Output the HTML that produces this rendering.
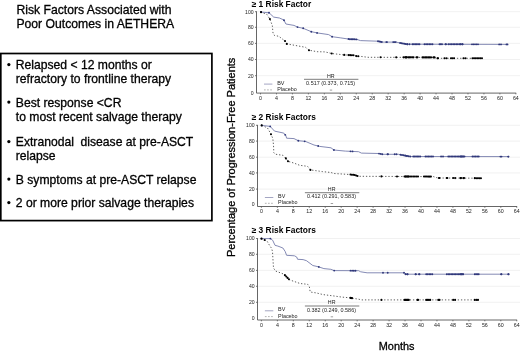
<!DOCTYPE html>
<html><head><meta charset="utf-8"><style>
html,body{margin:0;padding:0;background:#fff;width:520px;height:351px;overflow:hidden}
svg{display:block;filter:blur(0.3px)}
text{font-family:"Liberation Sans", sans-serif;}
.t{stroke:#000;stroke-width:0.3px}
</style></head><body>
<svg width="520" height="351" viewBox="0 0 520 351">

<text class="t" x="16.4" y="13.8" font-size="12.2" fill="#000">Risk Factors Associated with</text>
<text class="t" x="16.4" y="27.8" font-size="12.2" fill="#000">Poor Outcomes in AETHERA</text>
<rect x="0.8" y="53.5" width="211.1" height="167.1" fill="none" stroke="#000" stroke-width="1.7"/>
<text class="t" x="15.8" y="69.2" font-size="12.15" fill="#000" style="white-space:pre">Relapsed &lt; 12 months or</text>
<circle cx="8.85" cy="64.6" r="1.6" fill="#000"/>
<text class="t" x="15.8" y="83.0" font-size="12.15" fill="#000" style="white-space:pre">refractory to frontline therapy</text>
<text class="t" x="15.8" y="106.7" font-size="12.15" fill="#000" style="white-space:pre">Best response &lt;CR</text>
<circle cx="8.85" cy="102.1" r="1.6" fill="#000"/>
<text class="t" x="15.8" y="120.7" font-size="12.15" fill="#000" style="white-space:pre">to most recent salvage therapy</text>
<text class="t" x="15.8" y="146.2" font-size="12.15" fill="#000" style="white-space:pre">Extranodal  disease at pre-ASCT</text>
<circle cx="8.85" cy="141.6" r="1.6" fill="#000"/>
<text class="t" x="15.8" y="160.1" font-size="12.15" fill="#000" style="white-space:pre">relapse</text>
<text class="t" x="15.8" y="183.7" font-size="12.15" fill="#000" style="white-space:pre">B symptoms at pre-ASCT relapse</text>
<circle cx="8.85" cy="179.1" r="1.6" fill="#000"/>
<text class="t" x="15.8" y="207.2" font-size="12.15" fill="#000" style="white-space:pre">2 or more prior salvage therapies</text>
<circle cx="8.85" cy="202.6" r="1.6" fill="#000"/>
<text class="t" transform="translate(234.8,157.35) rotate(-90)" text-anchor="middle" font-size="11" fill="#000">Percentage of Progression-Free Patients</text>
<text class="t" x="378.8" y="350.3" font-size="10.9" fill="#000">Months</text>
<line x1="257.30" y1="75.70" x2="520" y2="75.70" stroke="#ededed" stroke-width="0.8"/>
<line x1="257.30" y1="59.50" x2="520" y2="59.50" stroke="#ededed" stroke-width="0.8"/>
<line x1="257.30" y1="43.40" x2="520" y2="43.40" stroke="#ededed" stroke-width="0.8"/>
<line x1="257.30" y1="27.30" x2="520" y2="27.30" stroke="#ededed" stroke-width="0.8"/>
<line x1="257.30" y1="11.70" x2="520" y2="11.70" stroke="#ededed" stroke-width="0.8"/>
<text x="251.7" y="6.50" font-size="8.4" font-weight="bold" fill="#000">≥ 1 Risk Factor</text>
<polyline points="256.50,11.30 256.50,93.10 516.20,93.10" fill="none" stroke="#555" stroke-width="0.9"/>
<text x="253.60" y="94.70" font-size="5.1" text-anchor="end" fill="#222">0</text>
<line x1="255.00" y1="75.70" x2="256.50" y2="75.70" stroke="#555" stroke-width="0.8"/>
<text x="253.60" y="77.50" font-size="5.1" text-anchor="end" fill="#222">20</text>
<line x1="255.00" y1="59.50" x2="256.50" y2="59.50" stroke="#555" stroke-width="0.8"/>
<text x="253.60" y="61.30" font-size="5.1" text-anchor="end" fill="#222">40</text>
<line x1="255.00" y1="43.40" x2="256.50" y2="43.40" stroke="#555" stroke-width="0.8"/>
<text x="253.60" y="45.20" font-size="5.1" text-anchor="end" fill="#222">60</text>
<line x1="255.00" y1="27.30" x2="256.50" y2="27.30" stroke="#555" stroke-width="0.8"/>
<text x="253.60" y="29.10" font-size="5.1" text-anchor="end" fill="#222">80</text>
<line x1="255.00" y1="11.70" x2="256.50" y2="11.70" stroke="#555" stroke-width="0.8"/>
<text x="253.60" y="13.50" font-size="5.1" text-anchor="end" fill="#222">100</text>
<line x1="260.50" y1="93.10" x2="260.50" y2="94.40" stroke="#555" stroke-width="0.8"/>
<text x="260.50" y="100.00" font-size="5.3" text-anchor="middle" fill="#222">0</text>
<line x1="276.46" y1="93.10" x2="276.46" y2="94.40" stroke="#555" stroke-width="0.8"/>
<text x="276.46" y="100.00" font-size="5.3" text-anchor="middle" fill="#222">4</text>
<line x1="292.42" y1="93.10" x2="292.42" y2="94.40" stroke="#555" stroke-width="0.8"/>
<text x="292.42" y="100.00" font-size="5.3" text-anchor="middle" fill="#222">8</text>
<line x1="308.38" y1="93.10" x2="308.38" y2="94.40" stroke="#555" stroke-width="0.8"/>
<text x="308.38" y="100.00" font-size="5.3" text-anchor="middle" fill="#222">12</text>
<line x1="324.34" y1="93.10" x2="324.34" y2="94.40" stroke="#555" stroke-width="0.8"/>
<text x="324.34" y="100.00" font-size="5.3" text-anchor="middle" fill="#222">16</text>
<line x1="340.30" y1="93.10" x2="340.30" y2="94.40" stroke="#555" stroke-width="0.8"/>
<text x="340.30" y="100.00" font-size="5.3" text-anchor="middle" fill="#222">20</text>
<line x1="356.26" y1="93.10" x2="356.26" y2="94.40" stroke="#555" stroke-width="0.8"/>
<text x="356.26" y="100.00" font-size="5.3" text-anchor="middle" fill="#222">24</text>
<line x1="372.22" y1="93.10" x2="372.22" y2="94.40" stroke="#555" stroke-width="0.8"/>
<text x="372.22" y="100.00" font-size="5.3" text-anchor="middle" fill="#222">28</text>
<line x1="388.18" y1="93.10" x2="388.18" y2="94.40" stroke="#555" stroke-width="0.8"/>
<text x="388.18" y="100.00" font-size="5.3" text-anchor="middle" fill="#222">32</text>
<line x1="404.14" y1="93.10" x2="404.14" y2="94.40" stroke="#555" stroke-width="0.8"/>
<text x="404.14" y="100.00" font-size="5.3" text-anchor="middle" fill="#222">36</text>
<line x1="420.10" y1="93.10" x2="420.10" y2="94.40" stroke="#555" stroke-width="0.8"/>
<text x="420.10" y="100.00" font-size="5.3" text-anchor="middle" fill="#222">40</text>
<line x1="436.06" y1="93.10" x2="436.06" y2="94.40" stroke="#555" stroke-width="0.8"/>
<text x="436.06" y="100.00" font-size="5.3" text-anchor="middle" fill="#222">44</text>
<line x1="452.02" y1="93.10" x2="452.02" y2="94.40" stroke="#555" stroke-width="0.8"/>
<text x="452.02" y="100.00" font-size="5.3" text-anchor="middle" fill="#222">48</text>
<line x1="467.98" y1="93.10" x2="467.98" y2="94.40" stroke="#555" stroke-width="0.8"/>
<text x="467.98" y="100.00" font-size="5.3" text-anchor="middle" fill="#222">52</text>
<line x1="483.94" y1="93.10" x2="483.94" y2="94.40" stroke="#555" stroke-width="0.8"/>
<text x="483.94" y="100.00" font-size="5.3" text-anchor="middle" fill="#222">56</text>
<line x1="499.90" y1="93.10" x2="499.90" y2="94.40" stroke="#555" stroke-width="0.8"/>
<text x="499.90" y="100.00" font-size="5.3" text-anchor="middle" fill="#222">60</text>
<line x1="515.86" y1="93.10" x2="515.86" y2="94.40" stroke="#555" stroke-width="0.8"/>
<text x="515.86" y="100.00" font-size="5.3" text-anchor="middle" fill="#222">64</text>
<line x1="264.00" y1="84.10" x2="272.40" y2="84.10" stroke="#9a9cbc" stroke-width="0.9"/>
<line x1="264.00" y1="89.90" x2="272.40" y2="89.90" stroke="#aaa" stroke-width="0.9" stroke-dasharray="1.7 1.4"/>
<text x="277.20" y="84.70" font-size="5.4" fill="#222">BV</text>
<text x="277.20" y="90.80" font-size="5.4" fill="#222">Placebo</text>
<text x="330.80" y="77.60" font-size="5.3" text-anchor="middle" fill="#222">HR</text>
<line x1="304.00" y1="79.30" x2="358.40" y2="79.30" stroke="#222" stroke-width="0.6"/>
<text x="330.60" y="84.80" font-size="5.45" text-anchor="middle" fill="#222">0.517 (0.373, 0.715)</text>
<line x1="329.80" y1="90.10" x2="332.20" y2="90.10" stroke="#888" stroke-width="0.8"/>
<polyline points="260.6,12.0 266.8,14.3 269.9,19.1 272.3,25.5 273,33 274.4,35.4 278.8,36.3 285,41 286.8,43.9 294,45.2 305.5,47.3 309,50.2 317.1,51.7 325,51.9 331.7,53.5 344,54.9 354,55.3 356,56.1 360,56.3 368,57.3 435,57.4 436,58.3 482.5,58.3" fill="none" stroke="#333" stroke-width="0.8" stroke-dasharray="1.3 1.9"/>
<polyline points="260.6,12.0 269.1,12.8 273.7,17.1 279.4,18.0 283.9,20.0 285.9,24.0 294,25.4 297.5,27.1 303.2,28.3 311.3,31.7 317.1,32.9 328.6,34.6 332.1,36.7 340.2,37.8 349.4,39.2 356.9,39.4 360.4,40.6 377.7,41.2 382.3,42.1 396.2,42.1 399.6,42.9 406.5,44.2 508,44.4" fill="none" stroke="#6e75a6" stroke-width="0.85"/>
<circle cx="261.05" cy="12.04" r="0.95" fill="#2f377a"/>
<circle cx="269.00" cy="12.79" r="0.95" fill="#2f377a"/>
<circle cx="284.00" cy="20.20" r="0.95" fill="#2f377a"/>
<circle cx="297.50" cy="27.10" r="0.95" fill="#2f377a"/>
<circle cx="303.20" cy="28.30" r="0.95" fill="#2f377a"/>
<circle cx="311.30" cy="31.70" r="0.95" fill="#2f377a"/>
<circle cx="317.10" cy="32.90" r="0.95" fill="#2f377a"/>
<circle cx="332.10" cy="36.70" r="0.95" fill="#2f377a"/>
<circle cx="348.50" cy="39.06" r="0.95" fill="#2f377a"/>
<circle cx="349.88" cy="39.21" r="0.95" fill="#2f377a"/>
<circle cx="351.25" cy="39.25" r="0.95" fill="#2f377a"/>
<circle cx="352.62" cy="39.29" r="0.95" fill="#2f377a"/>
<circle cx="354.00" cy="39.32" r="0.95" fill="#2f377a"/>
<circle cx="355.00" cy="39.35" r="0.95" fill="#2f377a"/>
<circle cx="356.50" cy="39.39" r="0.95" fill="#2f377a"/>
<circle cx="378.00" cy="41.26" r="0.95" fill="#2f377a"/>
<circle cx="379.27" cy="41.51" r="0.95" fill="#2f377a"/>
<circle cx="380.53" cy="41.75" r="0.95" fill="#2f377a"/>
<circle cx="381.80" cy="42.00" r="0.95" fill="#2f377a"/>
<circle cx="386.30" cy="42.10" r="0.95" fill="#2f377a"/>
<circle cx="387.00" cy="42.10" r="0.95" fill="#2f377a"/>
<circle cx="393.20" cy="42.10" r="0.95" fill="#2f377a"/>
<circle cx="394.45" cy="42.10" r="0.95" fill="#2f377a"/>
<circle cx="395.70" cy="42.10" r="0.95" fill="#2f377a"/>
<circle cx="400.10" cy="42.99" r="0.95" fill="#2f377a"/>
<circle cx="401.52" cy="43.26" r="0.95" fill="#2f377a"/>
<circle cx="402.94" cy="43.53" r="0.95" fill="#2f377a"/>
<circle cx="404.36" cy="43.80" r="0.95" fill="#2f377a"/>
<circle cx="405.78" cy="44.06" r="0.95" fill="#2f377a"/>
<circle cx="407.20" cy="44.20" r="0.95" fill="#2f377a"/>
<circle cx="407.50" cy="44.20" r="0.95" fill="#2f377a"/>
<circle cx="409.50" cy="44.21" r="0.95" fill="#2f377a"/>
<circle cx="412.50" cy="44.21" r="0.95" fill="#2f377a"/>
<circle cx="413.90" cy="44.21" r="0.95" fill="#2f377a"/>
<circle cx="415.30" cy="44.22" r="0.95" fill="#2f377a"/>
<circle cx="416.70" cy="44.22" r="0.95" fill="#2f377a"/>
<circle cx="418.10" cy="44.22" r="0.95" fill="#2f377a"/>
<circle cx="419.50" cy="44.23" r="0.95" fill="#2f377a"/>
<circle cx="424.50" cy="44.24" r="0.95" fill="#2f377a"/>
<circle cx="426.10" cy="44.24" r="0.95" fill="#2f377a"/>
<circle cx="427.70" cy="44.24" r="0.95" fill="#2f377a"/>
<circle cx="429.30" cy="44.24" r="0.95" fill="#2f377a"/>
<circle cx="430.90" cy="44.25" r="0.95" fill="#2f377a"/>
<circle cx="432.50" cy="44.25" r="0.95" fill="#2f377a"/>
<circle cx="439.50" cy="44.27" r="0.95" fill="#2f377a"/>
<circle cx="440.75" cy="44.27" r="0.95" fill="#2f377a"/>
<circle cx="442.00" cy="44.27" r="0.95" fill="#2f377a"/>
<circle cx="445.50" cy="44.28" r="0.95" fill="#2f377a"/>
<circle cx="446.00" cy="44.28" r="0.95" fill="#2f377a"/>
<circle cx="448.50" cy="44.28" r="0.95" fill="#2f377a"/>
<circle cx="450.06" cy="44.29" r="0.95" fill="#2f377a"/>
<circle cx="451.61" cy="44.29" r="0.95" fill="#2f377a"/>
<circle cx="453.17" cy="44.29" r="0.95" fill="#2f377a"/>
<circle cx="454.72" cy="44.30" r="0.95" fill="#2f377a"/>
<circle cx="456.28" cy="44.30" r="0.95" fill="#2f377a"/>
<circle cx="457.83" cy="44.30" r="0.95" fill="#2f377a"/>
<circle cx="459.39" cy="44.30" r="0.95" fill="#2f377a"/>
<circle cx="460.94" cy="44.31" r="0.95" fill="#2f377a"/>
<circle cx="462.50" cy="44.31" r="0.95" fill="#2f377a"/>
<circle cx="460.50" cy="44.31" r="0.95" fill="#2f377a"/>
<circle cx="462.50" cy="44.31" r="0.95" fill="#2f377a"/>
<circle cx="472.00" cy="44.33" r="0.95" fill="#2f377a"/>
<circle cx="473.50" cy="44.33" r="0.95" fill="#2f377a"/>
<circle cx="475.00" cy="44.33" r="0.95" fill="#2f377a"/>
<circle cx="476.50" cy="44.34" r="0.95" fill="#2f377a"/>
<circle cx="478.00" cy="44.34" r="0.95" fill="#2f377a"/>
<circle cx="499.20" cy="44.38" r="0.95" fill="#2f377a"/>
<circle cx="501.00" cy="44.39" r="0.95" fill="#2f377a"/>
<circle cx="506.50" cy="44.40" r="0.95" fill="#2f377a"/>
<circle cx="507.50" cy="44.40" r="0.95" fill="#2f377a"/>
<circle cx="261.05" cy="12.17" r="1.05" fill="#000"/>
<circle cx="269.90" cy="19.10" r="1.05" fill="#000"/>
<circle cx="285.00" cy="41.00" r="1.05" fill="#000"/>
<circle cx="286.80" cy="43.90" r="1.05" fill="#000"/>
<circle cx="309.00" cy="50.20" r="1.05" fill="#000"/>
<circle cx="331.70" cy="53.50" r="1.05" fill="#000"/>
<circle cx="344.20" cy="54.91" r="1.05" fill="#000"/>
<circle cx="348.50" cy="55.08" r="1.05" fill="#000"/>
<circle cx="350.17" cy="55.15" r="1.05" fill="#000"/>
<circle cx="351.83" cy="55.21" r="1.05" fill="#000"/>
<circle cx="353.50" cy="55.28" r="1.05" fill="#000"/>
<circle cx="356.30" cy="56.12" r="1.05" fill="#000"/>
<circle cx="358.20" cy="56.21" r="1.05" fill="#000"/>
<circle cx="380.60" cy="57.32" r="1.05" fill="#000"/>
<circle cx="396.20" cy="57.34" r="1.05" fill="#000"/>
<circle cx="403.50" cy="57.35" r="1.05" fill="#000"/>
<circle cx="405.17" cy="57.36" r="1.05" fill="#000"/>
<circle cx="406.83" cy="57.36" r="1.05" fill="#000"/>
<circle cx="408.50" cy="57.36" r="1.05" fill="#000"/>
<circle cx="405.50" cy="57.36" r="1.05" fill="#000"/>
<circle cx="406.50" cy="57.36" r="1.05" fill="#000"/>
<circle cx="409.50" cy="57.36" r="1.05" fill="#000"/>
<circle cx="410.83" cy="57.36" r="1.05" fill="#000"/>
<circle cx="412.17" cy="57.37" r="1.05" fill="#000"/>
<circle cx="413.50" cy="57.37" r="1.05" fill="#000"/>
<circle cx="416.50" cy="57.37" r="1.05" fill="#000"/>
<circle cx="417.50" cy="57.37" r="1.05" fill="#000"/>
<circle cx="422.50" cy="57.38" r="1.05" fill="#000"/>
<circle cx="423.92" cy="57.38" r="1.05" fill="#000"/>
<circle cx="425.33" cy="57.39" r="1.05" fill="#000"/>
<circle cx="426.75" cy="57.39" r="1.05" fill="#000"/>
<circle cx="428.17" cy="57.39" r="1.05" fill="#000"/>
<circle cx="429.58" cy="57.39" r="1.05" fill="#000"/>
<circle cx="431.00" cy="57.39" r="1.05" fill="#000"/>
<circle cx="433.50" cy="57.40" r="1.05" fill="#000"/>
<circle cx="434.50" cy="57.40" r="1.05" fill="#000"/>
<circle cx="437.50" cy="58.30" r="1.05" fill="#000"/>
<circle cx="438.00" cy="58.30" r="1.05" fill="#000"/>
<circle cx="444.50" cy="58.30" r="1.05" fill="#000"/>
<circle cx="446.50" cy="58.30" r="1.05" fill="#000"/>
<circle cx="451.00" cy="58.30" r="1.05" fill="#000"/>
<circle cx="452.55" cy="58.30" r="1.05" fill="#000"/>
<circle cx="454.10" cy="58.30" r="1.05" fill="#000"/>
<circle cx="463.50" cy="58.30" r="1.05" fill="#000"/>
<circle cx="465.50" cy="58.30" r="1.05" fill="#000"/>
<circle cx="472.50" cy="58.30" r="1.05" fill="#000"/>
<circle cx="474.08" cy="58.30" r="1.05" fill="#000"/>
<circle cx="475.67" cy="58.30" r="1.05" fill="#000"/>
<circle cx="477.25" cy="58.30" r="1.05" fill="#000"/>
<circle cx="478.83" cy="58.30" r="1.05" fill="#000"/>
<circle cx="480.42" cy="58.30" r="1.05" fill="#000"/>
<circle cx="482.00" cy="58.30" r="1.05" fill="#000"/>
<line x1="258.30" y1="189.10" x2="520" y2="189.10" stroke="#ededed" stroke-width="0.8"/>
<line x1="258.30" y1="172.90" x2="520" y2="172.90" stroke="#ededed" stroke-width="0.8"/>
<line x1="258.30" y1="157.20" x2="520" y2="157.20" stroke="#ededed" stroke-width="0.8"/>
<line x1="258.30" y1="141.10" x2="520" y2="141.10" stroke="#ededed" stroke-width="0.8"/>
<line x1="258.30" y1="125.30" x2="520" y2="125.30" stroke="#ededed" stroke-width="0.8"/>
<text x="251.7" y="120.10" font-size="8.4" font-weight="bold" fill="#000">≥ 2 Risk Factors</text>
<polyline points="257.50,124.90 257.50,206.50 517.10,206.50" fill="none" stroke="#555" stroke-width="0.9"/>
<text x="254.60" y="206.40" font-size="5.1" text-anchor="end" fill="#222">0</text>
<line x1="256.00" y1="189.10" x2="257.50" y2="189.10" stroke="#555" stroke-width="0.8"/>
<text x="254.60" y="190.90" font-size="5.1" text-anchor="end" fill="#222">20</text>
<line x1="256.00" y1="172.90" x2="257.50" y2="172.90" stroke="#555" stroke-width="0.8"/>
<text x="254.60" y="174.70" font-size="5.1" text-anchor="end" fill="#222">40</text>
<line x1="256.00" y1="157.20" x2="257.50" y2="157.20" stroke="#555" stroke-width="0.8"/>
<text x="254.60" y="159.00" font-size="5.1" text-anchor="end" fill="#222">60</text>
<line x1="256.00" y1="141.10" x2="257.50" y2="141.10" stroke="#555" stroke-width="0.8"/>
<text x="254.60" y="142.90" font-size="5.1" text-anchor="end" fill="#222">80</text>
<line x1="256.00" y1="125.30" x2="257.50" y2="125.30" stroke="#555" stroke-width="0.8"/>
<text x="254.60" y="127.10" font-size="5.1" text-anchor="end" fill="#222">100</text>
<line x1="261.40" y1="206.50" x2="261.40" y2="207.80" stroke="#555" stroke-width="0.8"/>
<text x="261.40" y="213.40" font-size="5.3" text-anchor="middle" fill="#222">0</text>
<line x1="277.36" y1="206.50" x2="277.36" y2="207.80" stroke="#555" stroke-width="0.8"/>
<text x="277.36" y="213.40" font-size="5.3" text-anchor="middle" fill="#222">4</text>
<line x1="293.32" y1="206.50" x2="293.32" y2="207.80" stroke="#555" stroke-width="0.8"/>
<text x="293.32" y="213.40" font-size="5.3" text-anchor="middle" fill="#222">8</text>
<line x1="309.28" y1="206.50" x2="309.28" y2="207.80" stroke="#555" stroke-width="0.8"/>
<text x="309.28" y="213.40" font-size="5.3" text-anchor="middle" fill="#222">12</text>
<line x1="325.24" y1="206.50" x2="325.24" y2="207.80" stroke="#555" stroke-width="0.8"/>
<text x="325.24" y="213.40" font-size="5.3" text-anchor="middle" fill="#222">16</text>
<line x1="341.20" y1="206.50" x2="341.20" y2="207.80" stroke="#555" stroke-width="0.8"/>
<text x="341.20" y="213.40" font-size="5.3" text-anchor="middle" fill="#222">20</text>
<line x1="357.16" y1="206.50" x2="357.16" y2="207.80" stroke="#555" stroke-width="0.8"/>
<text x="357.16" y="213.40" font-size="5.3" text-anchor="middle" fill="#222">24</text>
<line x1="373.12" y1="206.50" x2="373.12" y2="207.80" stroke="#555" stroke-width="0.8"/>
<text x="373.12" y="213.40" font-size="5.3" text-anchor="middle" fill="#222">28</text>
<line x1="389.08" y1="206.50" x2="389.08" y2="207.80" stroke="#555" stroke-width="0.8"/>
<text x="389.08" y="213.40" font-size="5.3" text-anchor="middle" fill="#222">32</text>
<line x1="405.04" y1="206.50" x2="405.04" y2="207.80" stroke="#555" stroke-width="0.8"/>
<text x="405.04" y="213.40" font-size="5.3" text-anchor="middle" fill="#222">36</text>
<line x1="421.00" y1="206.50" x2="421.00" y2="207.80" stroke="#555" stroke-width="0.8"/>
<text x="421.00" y="213.40" font-size="5.3" text-anchor="middle" fill="#222">40</text>
<line x1="436.96" y1="206.50" x2="436.96" y2="207.80" stroke="#555" stroke-width="0.8"/>
<text x="436.96" y="213.40" font-size="5.3" text-anchor="middle" fill="#222">44</text>
<line x1="452.92" y1="206.50" x2="452.92" y2="207.80" stroke="#555" stroke-width="0.8"/>
<text x="452.92" y="213.40" font-size="5.3" text-anchor="middle" fill="#222">48</text>
<line x1="468.88" y1="206.50" x2="468.88" y2="207.80" stroke="#555" stroke-width="0.8"/>
<text x="468.88" y="213.40" font-size="5.3" text-anchor="middle" fill="#222">52</text>
<line x1="484.84" y1="206.50" x2="484.84" y2="207.80" stroke="#555" stroke-width="0.8"/>
<text x="484.84" y="213.40" font-size="5.3" text-anchor="middle" fill="#222">56</text>
<line x1="500.80" y1="206.50" x2="500.80" y2="207.80" stroke="#555" stroke-width="0.8"/>
<text x="500.80" y="213.40" font-size="5.3" text-anchor="middle" fill="#222">60</text>
<line x1="516.76" y1="206.50" x2="516.76" y2="207.80" stroke="#555" stroke-width="0.8"/>
<text x="516.76" y="213.40" font-size="5.3" text-anchor="middle" fill="#222">64</text>
<line x1="264.90" y1="197.50" x2="273.30" y2="197.50" stroke="#9a9cbc" stroke-width="0.9"/>
<line x1="264.90" y1="203.30" x2="273.30" y2="203.30" stroke="#aaa" stroke-width="0.9" stroke-dasharray="1.7 1.4"/>
<text x="278.10" y="198.10" font-size="5.4" fill="#222">BV</text>
<text x="278.10" y="204.20" font-size="5.4" fill="#222">Placebo</text>
<text x="331.70" y="191.00" font-size="5.3" text-anchor="middle" fill="#222">HR</text>
<line x1="304.90" y1="192.70" x2="359.30" y2="192.70" stroke="#222" stroke-width="0.6"/>
<text x="331.50" y="198.20" font-size="5.45" text-anchor="middle" fill="#222">0.412 (0.291, 0.583)</text>
<line x1="330.70" y1="203.50" x2="333.10" y2="203.50" stroke="#888" stroke-width="0.8"/>
<polyline points="261.7,125.4 267.4,127.8 271,134.2 272.8,138.5 273.5,145 273.8,152.7 275.2,154.2 283,155.3 285.9,158.4 288,161.3 294,163.1 299.7,165.3 307.5,166.3 310.4,169.9 315.4,170.6 322.5,171.6 331,172.5 333.9,173.5 351,174.6 354.3,174.9 358.6,176.3 433.5,176.6 437.8,178 481.4,178.2" fill="none" stroke="#333" stroke-width="0.8" stroke-dasharray="1.3 1.9"/>
<polyline points="261.7,125.4 270.2,126.4 274.5,131.1 283.8,133.1 285.9,135.7 286.6,138.2 294,138.6 298.3,140.7 305.4,141.4 314,145 319.7,146.4 331,147.8 333.9,150 345.3,151.1 358.6,151.7 361.4,153.1 378.5,153.5 382.8,154.3 398.5,154.3 404.2,155.4 410,156.5 509,156.6" fill="none" stroke="#6e75a6" stroke-width="0.85"/>
<circle cx="261.70" cy="125.40" r="0.95" fill="#2f377a"/>
<circle cx="270.20" cy="126.40" r="0.95" fill="#2f377a"/>
<circle cx="285.20" cy="134.83" r="0.95" fill="#2f377a"/>
<circle cx="298.30" cy="140.70" r="0.95" fill="#2f377a"/>
<circle cx="304.70" cy="141.33" r="0.95" fill="#2f377a"/>
<circle cx="318.20" cy="146.03" r="0.95" fill="#2f377a"/>
<circle cx="333.90" cy="150.00" r="0.95" fill="#2f377a"/>
<circle cx="350.50" cy="151.33" r="0.95" fill="#2f377a"/>
<circle cx="352.50" cy="151.42" r="0.95" fill="#2f377a"/>
<circle cx="379.00" cy="153.59" r="0.95" fill="#2f377a"/>
<circle cx="380.65" cy="153.90" r="0.95" fill="#2f377a"/>
<circle cx="382.30" cy="154.21" r="0.95" fill="#2f377a"/>
<circle cx="387.50" cy="154.30" r="0.95" fill="#2f377a"/>
<circle cx="388.00" cy="154.30" r="0.95" fill="#2f377a"/>
<circle cx="394.70" cy="154.30" r="0.95" fill="#2f377a"/>
<circle cx="396.50" cy="154.30" r="0.95" fill="#2f377a"/>
<circle cx="400.50" cy="154.69" r="0.95" fill="#2f377a"/>
<circle cx="402.00" cy="154.98" r="0.95" fill="#2f377a"/>
<circle cx="403.50" cy="155.26" r="0.95" fill="#2f377a"/>
<circle cx="405.00" cy="155.55" r="0.95" fill="#2f377a"/>
<circle cx="406.50" cy="155.84" r="0.95" fill="#2f377a"/>
<circle cx="405.50" cy="155.65" r="0.95" fill="#2f377a"/>
<circle cx="407.07" cy="155.94" r="0.95" fill="#2f377a"/>
<circle cx="408.63" cy="156.24" r="0.95" fill="#2f377a"/>
<circle cx="410.20" cy="156.50" r="0.95" fill="#2f377a"/>
<circle cx="413.30" cy="156.50" r="0.95" fill="#2f377a"/>
<circle cx="414.68" cy="156.50" r="0.95" fill="#2f377a"/>
<circle cx="416.06" cy="156.51" r="0.95" fill="#2f377a"/>
<circle cx="417.44" cy="156.51" r="0.95" fill="#2f377a"/>
<circle cx="418.82" cy="156.51" r="0.95" fill="#2f377a"/>
<circle cx="420.20" cy="156.51" r="0.95" fill="#2f377a"/>
<circle cx="425.50" cy="156.52" r="0.95" fill="#2f377a"/>
<circle cx="427.00" cy="156.52" r="0.95" fill="#2f377a"/>
<circle cx="428.50" cy="156.52" r="0.95" fill="#2f377a"/>
<circle cx="430.00" cy="156.52" r="0.95" fill="#2f377a"/>
<circle cx="431.50" cy="156.52" r="0.95" fill="#2f377a"/>
<circle cx="433.00" cy="156.52" r="0.95" fill="#2f377a"/>
<circle cx="441.10" cy="156.53" r="0.95" fill="#2f377a"/>
<circle cx="443.00" cy="156.53" r="0.95" fill="#2f377a"/>
<circle cx="448.30" cy="156.54" r="0.95" fill="#2f377a"/>
<circle cx="449.77" cy="156.54" r="0.95" fill="#2f377a"/>
<circle cx="451.25" cy="156.54" r="0.95" fill="#2f377a"/>
<circle cx="452.72" cy="156.54" r="0.95" fill="#2f377a"/>
<circle cx="454.19" cy="156.54" r="0.95" fill="#2f377a"/>
<circle cx="455.66" cy="156.55" r="0.95" fill="#2f377a"/>
<circle cx="457.14" cy="156.55" r="0.95" fill="#2f377a"/>
<circle cx="458.61" cy="156.55" r="0.95" fill="#2f377a"/>
<circle cx="460.08" cy="156.55" r="0.95" fill="#2f377a"/>
<circle cx="461.55" cy="156.55" r="0.95" fill="#2f377a"/>
<circle cx="463.03" cy="156.55" r="0.95" fill="#2f377a"/>
<circle cx="464.50" cy="156.56" r="0.95" fill="#2f377a"/>
<circle cx="460.50" cy="156.55" r="0.95" fill="#2f377a"/>
<circle cx="461.80" cy="156.55" r="0.95" fill="#2f377a"/>
<circle cx="463.10" cy="156.55" r="0.95" fill="#2f377a"/>
<circle cx="472.50" cy="156.56" r="0.95" fill="#2f377a"/>
<circle cx="474.05" cy="156.56" r="0.95" fill="#2f377a"/>
<circle cx="475.60" cy="156.57" r="0.95" fill="#2f377a"/>
<circle cx="477.15" cy="156.57" r="0.95" fill="#2f377a"/>
<circle cx="478.70" cy="156.57" r="0.95" fill="#2f377a"/>
<circle cx="500.40" cy="156.59" r="0.95" fill="#2f377a"/>
<circle cx="501.50" cy="156.59" r="0.95" fill="#2f377a"/>
<circle cx="508.20" cy="156.60" r="0.95" fill="#2f377a"/>
<circle cx="508.50" cy="156.60" r="0.95" fill="#2f377a"/>
<circle cx="261.70" cy="125.40" r="1.05" fill="#000"/>
<circle cx="271.00" cy="134.20" r="1.05" fill="#000"/>
<circle cx="285.90" cy="158.40" r="1.05" fill="#000"/>
<circle cx="288.00" cy="161.30" r="1.05" fill="#000"/>
<circle cx="310.40" cy="169.90" r="1.05" fill="#000"/>
<circle cx="350.50" cy="174.57" r="1.05" fill="#000"/>
<circle cx="351.90" cy="174.68" r="1.05" fill="#000"/>
<circle cx="353.30" cy="174.81" r="1.05" fill="#000"/>
<circle cx="354.70" cy="175.03" r="1.05" fill="#000"/>
<circle cx="356.10" cy="175.49" r="1.05" fill="#000"/>
<circle cx="357.50" cy="175.94" r="1.05" fill="#000"/>
<circle cx="381.40" cy="176.39" r="1.05" fill="#000"/>
<circle cx="397.00" cy="176.45" r="1.05" fill="#000"/>
<circle cx="404.50" cy="176.48" r="1.05" fill="#000"/>
<circle cx="405.83" cy="176.49" r="1.05" fill="#000"/>
<circle cx="407.17" cy="176.49" r="1.05" fill="#000"/>
<circle cx="408.50" cy="176.50" r="1.05" fill="#000"/>
<circle cx="405.50" cy="176.49" r="1.05" fill="#000"/>
<circle cx="407.06" cy="176.49" r="1.05" fill="#000"/>
<circle cx="408.62" cy="176.50" r="1.05" fill="#000"/>
<circle cx="410.19" cy="176.51" r="1.05" fill="#000"/>
<circle cx="411.75" cy="176.51" r="1.05" fill="#000"/>
<circle cx="413.31" cy="176.52" r="1.05" fill="#000"/>
<circle cx="414.88" cy="176.53" r="1.05" fill="#000"/>
<circle cx="416.44" cy="176.53" r="1.05" fill="#000"/>
<circle cx="418.00" cy="176.54" r="1.05" fill="#000"/>
<circle cx="424.00" cy="176.56" r="1.05" fill="#000"/>
<circle cx="425.38" cy="176.57" r="1.05" fill="#000"/>
<circle cx="426.76" cy="176.57" r="1.05" fill="#000"/>
<circle cx="428.14" cy="176.58" r="1.05" fill="#000"/>
<circle cx="429.52" cy="176.58" r="1.05" fill="#000"/>
<circle cx="430.90" cy="176.59" r="1.05" fill="#000"/>
<circle cx="439.00" cy="178.01" r="1.05" fill="#000"/>
<circle cx="439.50" cy="178.01" r="1.05" fill="#000"/>
<circle cx="446.80" cy="178.04" r="1.05" fill="#000"/>
<circle cx="447.30" cy="178.04" r="1.05" fill="#000"/>
<circle cx="453.20" cy="178.07" r="1.05" fill="#000"/>
<circle cx="455.10" cy="178.08" r="1.05" fill="#000"/>
<circle cx="460.50" cy="178.10" r="1.05" fill="#000"/>
<circle cx="461.00" cy="178.11" r="1.05" fill="#000"/>
<circle cx="463.50" cy="178.12" r="1.05" fill="#000"/>
<circle cx="464.00" cy="178.12" r="1.05" fill="#000"/>
<circle cx="474.80" cy="178.17" r="1.05" fill="#000"/>
<circle cx="476.32" cy="178.18" r="1.05" fill="#000"/>
<circle cx="477.85" cy="178.18" r="1.05" fill="#000"/>
<circle cx="479.38" cy="178.19" r="1.05" fill="#000"/>
<circle cx="480.90" cy="178.20" r="1.05" fill="#000"/>
<line x1="258.30" y1="302.30" x2="520" y2="302.30" stroke="#ededed" stroke-width="0.8"/>
<line x1="258.30" y1="286.30" x2="520" y2="286.30" stroke="#ededed" stroke-width="0.8"/>
<line x1="258.30" y1="270.40" x2="520" y2="270.40" stroke="#ededed" stroke-width="0.8"/>
<line x1="258.30" y1="254.30" x2="520" y2="254.30" stroke="#ededed" stroke-width="0.8"/>
<line x1="258.30" y1="238.50" x2="520" y2="238.50" stroke="#ededed" stroke-width="0.8"/>
<text x="251.7" y="233.30" font-size="8.4" font-weight="bold" fill="#000">≥ 3 Risk Factors</text>
<polyline points="257.50,238.10 257.50,320.00 517.10,320.00" fill="none" stroke="#555" stroke-width="0.9"/>
<text x="254.60" y="320.00" font-size="5.1" text-anchor="end" fill="#222">0</text>
<line x1="256.00" y1="302.30" x2="257.50" y2="302.30" stroke="#555" stroke-width="0.8"/>
<text x="254.60" y="304.10" font-size="5.1" text-anchor="end" fill="#222">20</text>
<line x1="256.00" y1="286.30" x2="257.50" y2="286.30" stroke="#555" stroke-width="0.8"/>
<text x="254.60" y="288.10" font-size="5.1" text-anchor="end" fill="#222">40</text>
<line x1="256.00" y1="270.40" x2="257.50" y2="270.40" stroke="#555" stroke-width="0.8"/>
<text x="254.60" y="272.20" font-size="5.1" text-anchor="end" fill="#222">60</text>
<line x1="256.00" y1="254.30" x2="257.50" y2="254.30" stroke="#555" stroke-width="0.8"/>
<text x="254.60" y="256.10" font-size="5.1" text-anchor="end" fill="#222">80</text>
<line x1="256.00" y1="238.50" x2="257.50" y2="238.50" stroke="#555" stroke-width="0.8"/>
<text x="254.60" y="240.30" font-size="5.1" text-anchor="end" fill="#222">100</text>
<line x1="261.40" y1="320.00" x2="261.40" y2="321.30" stroke="#555" stroke-width="0.8"/>
<text x="261.40" y="326.90" font-size="5.3" text-anchor="middle" fill="#222">0</text>
<line x1="277.36" y1="320.00" x2="277.36" y2="321.30" stroke="#555" stroke-width="0.8"/>
<text x="277.36" y="326.90" font-size="5.3" text-anchor="middle" fill="#222">4</text>
<line x1="293.32" y1="320.00" x2="293.32" y2="321.30" stroke="#555" stroke-width="0.8"/>
<text x="293.32" y="326.90" font-size="5.3" text-anchor="middle" fill="#222">8</text>
<line x1="309.28" y1="320.00" x2="309.28" y2="321.30" stroke="#555" stroke-width="0.8"/>
<text x="309.28" y="326.90" font-size="5.3" text-anchor="middle" fill="#222">12</text>
<line x1="325.24" y1="320.00" x2="325.24" y2="321.30" stroke="#555" stroke-width="0.8"/>
<text x="325.24" y="326.90" font-size="5.3" text-anchor="middle" fill="#222">16</text>
<line x1="341.20" y1="320.00" x2="341.20" y2="321.30" stroke="#555" stroke-width="0.8"/>
<text x="341.20" y="326.90" font-size="5.3" text-anchor="middle" fill="#222">20</text>
<line x1="357.16" y1="320.00" x2="357.16" y2="321.30" stroke="#555" stroke-width="0.8"/>
<text x="357.16" y="326.90" font-size="5.3" text-anchor="middle" fill="#222">24</text>
<line x1="373.12" y1="320.00" x2="373.12" y2="321.30" stroke="#555" stroke-width="0.8"/>
<text x="373.12" y="326.90" font-size="5.3" text-anchor="middle" fill="#222">28</text>
<line x1="389.08" y1="320.00" x2="389.08" y2="321.30" stroke="#555" stroke-width="0.8"/>
<text x="389.08" y="326.90" font-size="5.3" text-anchor="middle" fill="#222">32</text>
<line x1="405.04" y1="320.00" x2="405.04" y2="321.30" stroke="#555" stroke-width="0.8"/>
<text x="405.04" y="326.90" font-size="5.3" text-anchor="middle" fill="#222">36</text>
<line x1="421.00" y1="320.00" x2="421.00" y2="321.30" stroke="#555" stroke-width="0.8"/>
<text x="421.00" y="326.90" font-size="5.3" text-anchor="middle" fill="#222">40</text>
<line x1="436.96" y1="320.00" x2="436.96" y2="321.30" stroke="#555" stroke-width="0.8"/>
<text x="436.96" y="326.90" font-size="5.3" text-anchor="middle" fill="#222">44</text>
<line x1="452.92" y1="320.00" x2="452.92" y2="321.30" stroke="#555" stroke-width="0.8"/>
<text x="452.92" y="326.90" font-size="5.3" text-anchor="middle" fill="#222">48</text>
<line x1="468.88" y1="320.00" x2="468.88" y2="321.30" stroke="#555" stroke-width="0.8"/>
<text x="468.88" y="326.90" font-size="5.3" text-anchor="middle" fill="#222">52</text>
<line x1="484.84" y1="320.00" x2="484.84" y2="321.30" stroke="#555" stroke-width="0.8"/>
<text x="484.84" y="326.90" font-size="5.3" text-anchor="middle" fill="#222">56</text>
<line x1="500.80" y1="320.00" x2="500.80" y2="321.30" stroke="#555" stroke-width="0.8"/>
<text x="500.80" y="326.90" font-size="5.3" text-anchor="middle" fill="#222">60</text>
<line x1="516.76" y1="320.00" x2="516.76" y2="321.30" stroke="#555" stroke-width="0.8"/>
<text x="516.76" y="326.90" font-size="5.3" text-anchor="middle" fill="#222">64</text>
<line x1="264.90" y1="310.80" x2="273.30" y2="310.80" stroke="#9a9cbc" stroke-width="0.9"/>
<line x1="264.90" y1="316.60" x2="273.30" y2="316.60" stroke="#aaa" stroke-width="0.9" stroke-dasharray="1.7 1.4"/>
<text x="278.10" y="311.40" font-size="5.4" fill="#222">BV</text>
<text x="278.10" y="317.50" font-size="5.4" fill="#222">Placebo</text>
<text x="331.70" y="304.30" font-size="5.3" text-anchor="middle" fill="#222">HR</text>
<line x1="304.90" y1="306.00" x2="359.30" y2="306.00" stroke="#222" stroke-width="0.6"/>
<text x="331.50" y="311.50" font-size="5.45" text-anchor="middle" fill="#222">0.382 (0.249, 0.586)</text>
<line x1="330.70" y1="316.80" x2="333.10" y2="316.80" stroke="#888" stroke-width="0.8"/>
<polyline points="261.4,238.6 264.7,240 267.3,241.5 269.3,245 271.6,248.4 272.5,251.5 273,260 273.5,268 275.5,271 284,274.2 289.4,279.8 294,281.4 300,283.5 307.7,284.3 309.4,286.9 310.2,292 316.2,292.9 323.1,294.6 333.3,295.9 341.9,297.1 350,297.8 358.6,299.2 361.4,299.9 478.5,299.9" fill="none" stroke="#333" stroke-width="0.8" stroke-dasharray="1.3 1.9"/>
<polyline points="261.4,238.6 270.4,238.6 272.7,240.3 275,245.3 277.9,246.1 280,246.9 282.9,248 285.2,251.5 286.6,255.3 294.4,255.8 296.7,257 297.6,259.3 303.1,259.6 306.5,260.7 312.8,265.5 318.8,266.9 323.9,268.6 330.8,269.3 334.2,270.6 358.6,270.7 360.7,271.8 367.1,272.8 404.2,272.8 405.6,274.2 509.2,274.2" fill="none" stroke="#6e75a6" stroke-width="0.85"/>
<circle cx="261.40" cy="238.60" r="0.95" fill="#2f377a"/>
<circle cx="270.40" cy="238.60" r="0.95" fill="#2f377a"/>
<circle cx="318.80" cy="266.90" r="0.95" fill="#2f377a"/>
<circle cx="334.20" cy="270.60" r="0.95" fill="#2f377a"/>
<circle cx="350.50" cy="270.67" r="0.95" fill="#2f377a"/>
<circle cx="352.17" cy="270.67" r="0.95" fill="#2f377a"/>
<circle cx="353.83" cy="270.68" r="0.95" fill="#2f377a"/>
<circle cx="355.50" cy="270.69" r="0.95" fill="#2f377a"/>
<circle cx="383.00" cy="272.80" r="0.95" fill="#2f377a"/>
<circle cx="387.70" cy="272.80" r="0.95" fill="#2f377a"/>
<circle cx="404.00" cy="272.80" r="0.95" fill="#2f377a"/>
<circle cx="405.75" cy="274.20" r="0.95" fill="#2f377a"/>
<circle cx="407.50" cy="274.20" r="0.95" fill="#2f377a"/>
<circle cx="405.50" cy="274.10" r="0.95" fill="#2f377a"/>
<circle cx="407.50" cy="274.20" r="0.95" fill="#2f377a"/>
<circle cx="415.50" cy="274.20" r="0.95" fill="#2f377a"/>
<circle cx="415.90" cy="274.20" r="0.95" fill="#2f377a"/>
<circle cx="419.00" cy="274.20" r="0.95" fill="#2f377a"/>
<circle cx="419.50" cy="274.20" r="0.95" fill="#2f377a"/>
<circle cx="426.20" cy="274.20" r="0.95" fill="#2f377a"/>
<circle cx="427.73" cy="274.20" r="0.95" fill="#2f377a"/>
<circle cx="429.25" cy="274.20" r="0.95" fill="#2f377a"/>
<circle cx="430.77" cy="274.20" r="0.95" fill="#2f377a"/>
<circle cx="432.30" cy="274.20" r="0.95" fill="#2f377a"/>
<circle cx="446.80" cy="274.20" r="0.95" fill="#2f377a"/>
<circle cx="448.26" cy="274.20" r="0.95" fill="#2f377a"/>
<circle cx="449.73" cy="274.20" r="0.95" fill="#2f377a"/>
<circle cx="451.19" cy="274.20" r="0.95" fill="#2f377a"/>
<circle cx="452.65" cy="274.20" r="0.95" fill="#2f377a"/>
<circle cx="454.12" cy="274.20" r="0.95" fill="#2f377a"/>
<circle cx="455.58" cy="274.20" r="0.95" fill="#2f377a"/>
<circle cx="457.05" cy="274.20" r="0.95" fill="#2f377a"/>
<circle cx="458.51" cy="274.20" r="0.95" fill="#2f377a"/>
<circle cx="459.97" cy="274.20" r="0.95" fill="#2f377a"/>
<circle cx="461.44" cy="274.20" r="0.95" fill="#2f377a"/>
<circle cx="462.90" cy="274.20" r="0.95" fill="#2f377a"/>
<circle cx="460.50" cy="274.20" r="0.95" fill="#2f377a"/>
<circle cx="461.80" cy="274.20" r="0.95" fill="#2f377a"/>
<circle cx="463.10" cy="274.20" r="0.95" fill="#2f377a"/>
<circle cx="474.80" cy="274.20" r="0.95" fill="#2f377a"/>
<circle cx="476.10" cy="274.20" r="0.95" fill="#2f377a"/>
<circle cx="477.40" cy="274.20" r="0.95" fill="#2f377a"/>
<circle cx="478.70" cy="274.20" r="0.95" fill="#2f377a"/>
<circle cx="501.10" cy="274.20" r="0.95" fill="#2f377a"/>
<circle cx="501.50" cy="274.20" r="0.95" fill="#2f377a"/>
<circle cx="508.20" cy="274.20" r="0.95" fill="#2f377a"/>
<circle cx="508.70" cy="274.20" r="0.95" fill="#2f377a"/>
<circle cx="261.50" cy="238.64" r="1.05" fill="#000"/>
<circle cx="264.70" cy="240.00" r="1.05" fill="#000"/>
<circle cx="284.90" cy="275.13" r="1.05" fill="#000"/>
<circle cx="286.23" cy="276.52" r="1.05" fill="#000"/>
<circle cx="287.57" cy="277.90" r="1.05" fill="#000"/>
<circle cx="288.90" cy="279.28" r="1.05" fill="#000"/>
<circle cx="352.00" cy="298.13" r="1.05" fill="#000"/>
<circle cx="350.50" cy="297.88" r="1.05" fill="#000"/>
<circle cx="351.00" cy="297.96" r="1.05" fill="#000"/>
<circle cx="381.40" cy="299.90" r="1.05" fill="#000"/>
<circle cx="404.50" cy="299.90" r="1.05" fill="#000"/>
<circle cx="406.20" cy="299.90" r="1.05" fill="#000"/>
<circle cx="407.90" cy="299.90" r="1.05" fill="#000"/>
<circle cx="405.50" cy="299.90" r="1.05" fill="#000"/>
<circle cx="407.15" cy="299.90" r="1.05" fill="#000"/>
<circle cx="408.80" cy="299.90" r="1.05" fill="#000"/>
<circle cx="417.50" cy="299.90" r="1.05" fill="#000"/>
<circle cx="418.00" cy="299.90" r="1.05" fill="#000"/>
<circle cx="426.20" cy="299.90" r="1.05" fill="#000"/>
<circle cx="427.53" cy="299.90" r="1.05" fill="#000"/>
<circle cx="428.87" cy="299.90" r="1.05" fill="#000"/>
<circle cx="430.20" cy="299.90" r="1.05" fill="#000"/>
<circle cx="438.30" cy="299.90" r="1.05" fill="#000"/>
<circle cx="439.50" cy="299.90" r="1.05" fill="#000"/>
<circle cx="453.20" cy="299.90" r="1.05" fill="#000"/>
<circle cx="455.10" cy="299.90" r="1.05" fill="#000"/>
<circle cx="474.80" cy="299.90" r="1.05" fill="#000"/>
<circle cx="476.40" cy="299.90" r="1.05" fill="#000"/>
<circle cx="478.00" cy="299.90" r="1.05" fill="#000"/>
</svg>
</body></html>
